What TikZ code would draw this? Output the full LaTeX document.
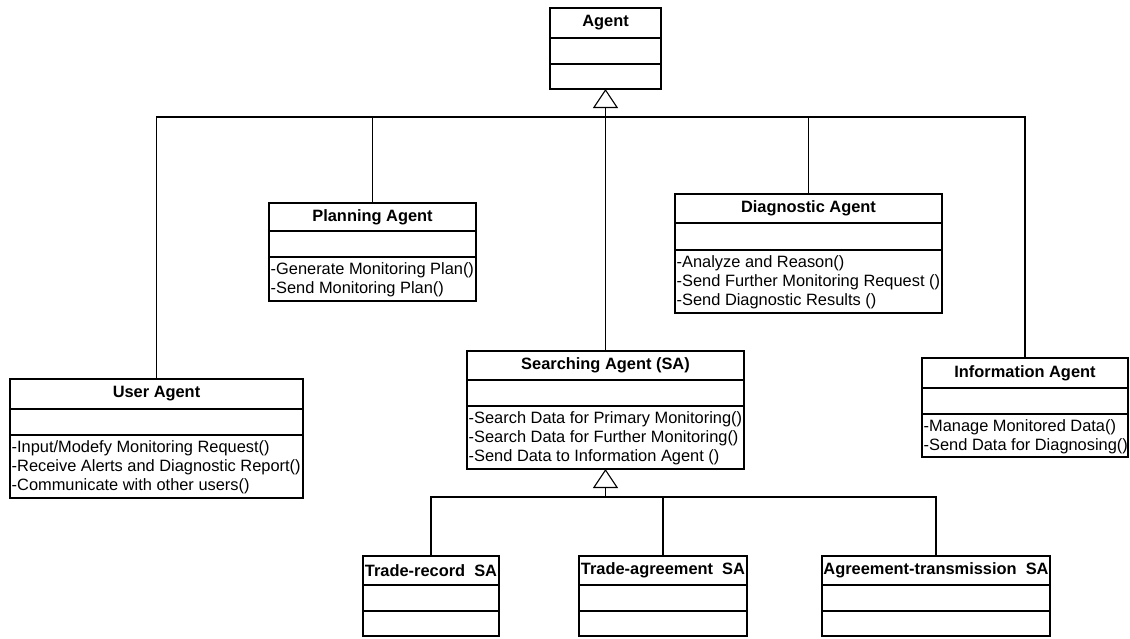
\documentclass[tikz,border=0pt]{standalone}
\usepackage{fontspec}
\setmainfont{Liberation Sans}
\usetikzlibrary{arrows.meta}

% One UML class: name, x, y (top left), width, title/attribute/operation heights, title, operations
\newcommand{\umlclass}[9]{%
  \node[hd, minimum width=#4, minimum height=#5] (#1) at (#2,#3) {#8};
  \node[part, minimum width=#4, minimum height=#6, anchor=north] (#1-a) at (#1.south) {};
  \node[part, minimum width=#4, minimum height=#7, anchor=north] (#1-o) at (#1-a.south) {};
  \node[opstext] (#1-t) at (#1-o.west) {#9};
}

\tikzset{
  box/.style={draw, line width=1.1pt, inner sep=0pt, outer sep=0pt},
  hd/.style={box, anchor=north west, font=\fontsize{16.4}{18.5}\selectfont\bfseries},
  part/.style={box},
  opstext/.style={anchor=west, align=left, inner xsep=1.5pt, inner ysep=0pt, yshift=-1pt,
    font=\fontsize{16.4}{19.2}\selectfont},
  link/.style={line width=1.1pt},
  gen/.style={line width=1.1pt, -{Triangle[open, length=19pt, width=25pt, line width=1.1pt]}},
}

\begin{document}
\begin{tikzpicture}[x=1pt, y=-1pt]
\useasboundingbox (0,0) rectangle (1130,638);

% classes
\umlclass{agent}{550}{8}{111}{30}{26}{25}{Agent}{}
\umlclass{plan}{269}{203}{207}{28}{26}{44}{Planning Agent}{-Generate Monitoring Plan()\\-Send Monitoring Plan()}
\umlclass{diag}{675}{194}{267}{29}{27}{63}{Diagnostic Agent}{-Analyze and Reason()\\-Send Further Monitoring Request ()\\-Send Diagnostic Results ()}
\umlclass{user}{10}{379}{293}{30}{26}{63}{User Agent}{-Input/Modefy Monitoring Request()\\-Receive Alerts and Diagnostic Report()\\-Communicate with other users()}
\umlclass{search}{467}{351}{277}{29}{26}{63}{Searching Agent (SA)}{-Search Data for Primary Monitoring()\\-Search Data for Further Monitoring()\\-Send Data to Information Agent ()}
\umlclass{info}{922}{358}{206}{30}{26}{43}{Information Agent}{-Manage Monitored Data()\\-Send Data for Diagnosing()}
\umlclass{trec}{363}{556}{136}{29}{26}{25}{Trade-record\ \ SA}{}
\umlclass{tagr}{579}{556}{168}{29}{26}{25}{Trade-agreement\ \ SA}{}
\umlclass{atrn}{822}{556}{228}{29}{26}{25}{Agreement-transmission\ \ SA}{}

% bus lines of the two generalization trees
\coordinate (topbus) at (0,117);
\coordinate (lowbus) at (0,497);

% generalization to Agent
\draw[link] (user.north) -- (user.north |- topbus) -- (info.north |- topbus) -- (info.north);
\draw[link] (plan.north) -- (plan.north |- topbus);
\draw[link] (diag.north) -- (diag.north |- topbus);
\draw[gen] (search.north) -- (agent-o.south);

% generalization to Searching Agent
\draw[link] (trec.north) -- (trec.north |- lowbus) -- (atrn.north |- lowbus) -- (atrn.north);
\draw[link] (tagr.north) -- (tagr.north |- lowbus);
\draw[gen] (search-o.south |- lowbus) -- (search-o.south);
\end{tikzpicture}
\end{document}
